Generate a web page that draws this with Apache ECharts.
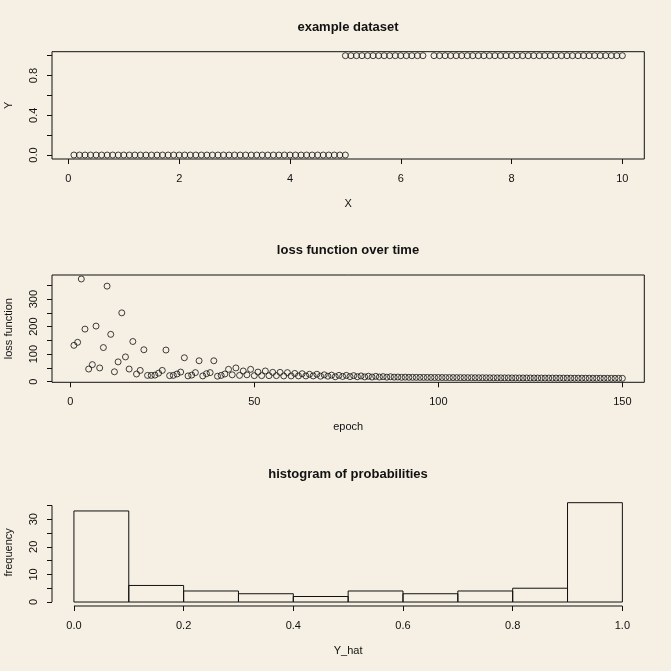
<!DOCTYPE html>
<html>
<head>
<meta charset="utf-8">
<script src="https://cdn.jsdelivr.net/npm/echarts@6/dist/echarts.min.js"></script>
<style>
html,body{margin:0;padding:0;background:#F6F0E4;}
#c{width:671px;height:671px;}
</style>
</head>
<body>
<div id="c"></div>
<script>
// ---------- DATA ----------
// panel 1: example dataset
const dataX = [0.1,0.2,0.3,0.4,0.5,0.6,0.7,0.8,0.9,1.0,1.1,1.2,1.3,1.4,1.5,1.6,1.7,1.8,1.9,2.0,
  2.1,2.2,2.3,2.4,2.5,2.6,2.7,2.8,2.9,3.0,3.1,3.2,3.3,3.4,3.5,3.6,3.7,3.8,3.9,4.0,
  4.1,4.2,4.3,4.4,4.5,4.6,4.7,4.8,4.9,5.0,
  5.0,5.1,5.2,5.3,5.4,5.5,5.6,5.7,5.8,5.9,6.0,6.1,6.2,6.3,6.4,
  6.6,6.7,6.8,6.9,7.0,7.1,7.2,7.3,7.4,7.5,7.6,7.7,7.8,7.9,8.0,8.1,8.2,8.3,8.4,8.5,
  8.6,8.7,8.8,8.9,9.0,9.1,9.2,9.3,9.4,9.5,9.6,9.7,9.8,9.9,10.0];
const dataY = [0,0,0,0,0,0,0,0,0,0,0,0,0,0,0,0,0,0,0,0,
  0,0,0,0,0,0,0,0,0,0,0,0,0,0,0,0,0,0,0,0,
  0,0,0,0,0,0,0,0,0,0,
  1,1,1,1,1,1,1,1,1,1,1,1,1,1,1,
  1,1,1,1,1,1,1,1,1,1,1,1,1,1,1,1,1,1,1,1,
  1,1,1,1,1,1,1,1,1,1,1,1,1,1,1];
const topXTicks = [0,2,4,6,8,10];
const topYTicks = [0,0.2,0.4,0.6,0.8,1.0];
const topYLabels = [0,0.4,0.8];

// panel 2: loss function over time
const epochs = [1,2,3,4,5,6,7,8,9,10,11,12,13,14,15,16,17,18,19,20,
  21,22,23,24,25,26,27,28,29,30,31,32,33,34,35,36,37,38,39,40,
  41,42,43,44,45,46,47,48,49,50,51,52,53,54,55,56,57,58,59,60,
  61,62,63,64,65,66,67,68,69,70,71,72,73,74,75,76,77,78,79,80,
  81,82,83,84,85,86,87,88,89,90,91,92,93,94,95,96,97,98,99,100,
  101,102,103,104,105,106,107,108,109,110,111,112,113,114,115,116,117,118,119,120,
  121,122,123,124,125,126,127,128,129,130,131,132,133,134,135,136,137,138,139,140,
  141,142,143,144,145,146,147,148,149,150];
const lossValues = [132,143,373,191,46,62,202,50,124,347,172,36,72,250,90,46,146,28,41,116,
  23,23,24,31,41,115,22,23,28,35,87,21,24,33,76,21,29,33,76,20,
  23,28,45,25,50,23,39,25,45,22,35,22,39,22,34,22,34,21,33,21,
  30,21,29,21,27,21,27,20,25,20,24,18,23,19,23,18.5,22,18,21,17.5,
  20,17,19.5,17,18.5,16.5,18,16.5,17,16,16.5,16,16,15.8,15.8,15.6,15.6,15.5,15.4,15.3,
  15.2,15.1,15.0,15.0,14.9,14.8,14.7,14.7,14.6,14.5,14.4,14.4,14.3,14.2,14.2,14.1,14.0,14.0,13.9,13.8,
  13.8,13.7,13.7,13.6,13.5,13.5,13.4,13.4,13.3,13.3,13.2,13.2,13.1,13.1,13.0,13.0,12.9,12.9,12.8,12.8,
  12.7,12.7,12.6,12.6,12.5,12.5,12.4,12.4,12.3,12.3];
const midXTicks = [0,50,100,150];
const midYTicks = [0,50,100,150,200,250,300,350];
const midYLabels = [0,100,200,300];

// panel 3: histogram of probabilities
const histBreaks = [0,0.1,0.2,0.3,0.4,0.5,0.6,0.7,0.8,0.9,1.0];
const histCounts = [33,6,4,3,2,4,3,4,5,36];
const histXTicks = [0,0.2,0.4,0.6,0.8,1.0];
const histYTicks = [0,5,10,15,20,25,30,35];
const histYLabels = [0,10,20,30];

const titles = ['example dataset','loss function over time','histogram of probabilities'];
const xNames = ['X','epoch','Y_hat'];
const yNames = ['Y','loss function','frequency'];

// ---------- LAYOUT ----------
function rRange(lo, hi){ const d=(hi-lo)*0.04; return [lo-d, hi+d]; }
const FONT = 'Liberation Sans, Arial, Helvetica, sans-serif';
const INK = '#111';
const topXR = rRange(Math.min(...dataX), Math.max(...dataX));
const topYR = rRange(Math.min(...dataY), Math.max(...dataY));
const midXR = rRange(Math.min(...epochs), Math.max(...epochs));
const midYR = rRange(Math.min(...lossValues), Math.max(...lossValues));
const botXR = rRange(histBreaks[0], histBreaks[histBreaks.length-1]);
const botYR = rRange(0, Math.max(...histCounts));

const gridTops = [51.7, 275, 498.7];
const grids = gridTops.map((t,i)=>({left:52, top:t, width:592.3, height:107.3,
  show: i<2, borderColor: INK, borderWidth: 1, backgroundColor:'transparent',
  containLabel:false, outerBoundsMode:'none'}));

function xAxisDef(i, range, ticks, labels, fmt){
  return {type:'value', gridIndex:i, min:range[0], max:range[1],
    name:xNames[i], nameLocation:'middle', nameGap:39,
    nameTextStyle:{fontFamily:FONT, fontSize:11, color:INK},
    axisLine:{show:false, onZero:false}, splitLine:{show:false},
    axisTick:{show:true, length:5, customValues:ticks, lineStyle:{color:INK, width:1}},
    axisLabel:{customValues:labels, margin:14, fontFamily:FONT, fontSize:11, color:INK, formatter:fmt}};
}
function yAxisDef(i, range, ticks, labels, fmt){
  return {type:'value', gridIndex:i, min:range[0], max:range[1],
    name:yNames[i], nameLocation:'middle', nameGap:38,
    nameTextStyle:{fontFamily:FONT, fontSize:11, color:INK},
    axisLine:{show:false, onZero:false}, splitLine:{show:false},
    axisTick:{show:true, length:5, customValues:ticks, lineStyle:{color:INK, width:1}},
    axisLabel:{customValues:labels, rotate:90, margin:13, fontFamily:FONT, fontSize:11, color:INK, formatter:fmt}};
}
const f1 = v => Number(v).toFixed(1);
const f0 = v => String(Math.round(v));

const pointStyle = {color:'rgba(0,0,0,0)', borderColor:INK, borderWidth:1};

const chart = echarts.init(document.getElementById('c'), null, {renderer:'canvas'});
chart.setOption({
  backgroundColor:'#F6F0E4',
  animation:false,
  grid: grids,
  xAxis:[
    xAxisDef(0, topXR, topXTicks, topXTicks, f0),
    xAxisDef(1, midXR, midXTicks, midXTicks, f0),
    xAxisDef(2, botXR, histXTicks, histXTicks, f1)
  ],
  yAxis:[
    yAxisDef(0, topYR, topYTicks, topYLabels, f1),
    yAxisDef(1, midYR, midYTicks, midYLabels, f0),
    yAxisDef(2, botYR, histYTicks, histYLabels, f0)
  ],
  graphic: titles.map((t,i)=>({type:'text', x:348, y:gridTops[i]-24.5,
    style:{text:t, fontFamily:FONT, fontSize:13, fontWeight:'bold', fill:INK, align:'center', verticalAlign:'middle'}})),
  series:[
    {type:'scatter', xAxisIndex:0, yAxisIndex:0, symbol:'circle', symbolSize:6,
      itemStyle:pointStyle, data:dataX.map((x,k)=>[x,dataY[k]])},
    {type:'scatter', xAxisIndex:1, yAxisIndex:1, symbol:'circle', symbolSize:6,
      itemStyle:pointStyle, data:epochs.map((x,k)=>[x,lossValues[k]])},
    {type:'custom', xAxisIndex:2, yAxisIndex:2,
      data: histCounts.map((c,k)=>[histBreaks[k], histBreaks[k+1], c]),
      encode:{x:[0,1], y:2},
      renderItem:(params, api)=>{
        const p0 = api.coord([api.value(0), api.value(2)]);
        const p1 = api.coord([api.value(1), 0]);
        return {type:'rect', shape:{x:p0[0], y:p0[1], width:p1[0]-p0[0], height:p1[1]-p0[1]},
          style:{fill:'none', stroke:INK, lineWidth:1}};
      }},
    // R-style axis lines (span first..last tick) for the histogram panel
    {type:'custom', xAxisIndex:2, yAxisIndex:2, silent:true,
      data:[[0]],
      renderItem:(params, api)=>{
        const xa = api.coord([histXTicks[0], botYR[0]]);
        const xb = api.coord([histXTicks[histXTicks.length-1], botYR[0]]);
        const ya = api.coord([botXR[0], histYTicks[0]]);
        const yb = api.coord([botXR[0], histYTicks[histYTicks.length-1]]);
        return {type:'group', children:[
          {type:'line', shape:{x1:xa[0], y1:xa[1], x2:xb[0], y2:xb[1]}, style:{stroke:INK, lineWidth:1}},
          {type:'line', shape:{x1:ya[0], y1:ya[1], x2:yb[0], y2:yb[1]}, style:{stroke:INK, lineWidth:1}}
        ]};
      }}
  ]
});
</script>
</body>
</html>
